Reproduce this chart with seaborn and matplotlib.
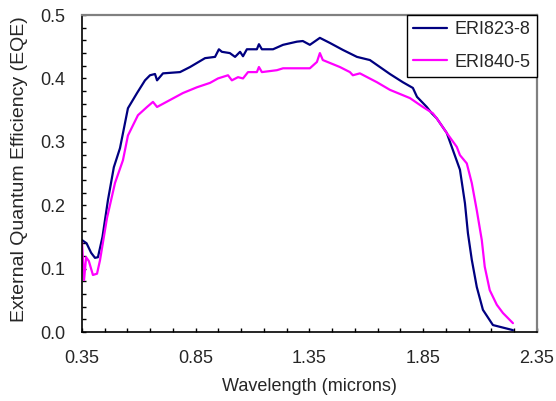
import numpy as np
import pandas as pd
import seaborn as sns
import matplotlib
matplotlib.use('Agg')
import matplotlib.pyplot as plt
from matplotlib.ticker import FixedLocator, FormatStrFormatter

# values
wl_823 = [0.35, 0.37, 0.39, 0.407, 0.42, 0.44, 0.464, 0.49, 0.517, 0.552, 0.592, 0.627,
          0.649, 0.671, 0.68, 0.706, 0.781, 0.825, 0.891, 0.935, 0.952, 0.965, 1.0,
          1.023, 1.045, 1.058, 1.075, 1.119, 1.128, 1.141, 1.19, 1.234, 1.295, 1.321,
          1.352, 1.396, 1.44, 1.497, 1.559, 1.616, 1.66, 1.704, 1.761, 1.805, 1.823,
          1.866, 1.888, 1.91, 1.954, 1.981, 2.012, 2.034, 2.047, 2.064, 2.086, 2.113,
          2.157, 2.245]
eqe_823 = [0.145, 0.14, 0.125, 0.117, 0.118, 0.15, 0.208, 0.26, 0.29, 0.353, 0.377, 0.397,
           0.405, 0.407, 0.397, 0.408, 0.41, 0.418, 0.432, 0.434, 0.446, 0.442, 0.44,
           0.434, 0.442, 0.435, 0.446, 0.446, 0.454, 0.446, 0.446, 0.453, 0.458, 0.459,
           0.453, 0.464, 0.456, 0.445, 0.434, 0.429, 0.418, 0.407, 0.394, 0.385, 0.371,
           0.355, 0.345, 0.337, 0.314, 0.287, 0.256, 0.203, 0.156, 0.114, 0.071, 0.035,
           0.011, 0.003]

wl_840 = [0.35, 0.359, 0.368, 0.38, 0.398, 0.416, 0.429, 0.46, 0.495, 0.53, 0.552, 0.596,
          0.636, 0.662, 0.68, 0.737, 0.794, 0.855, 0.913, 0.948, 0.992, 1.009, 1.036,
          1.058, 1.08, 1.119, 1.128, 1.141, 1.207, 1.234, 1.295, 1.352, 1.383, 1.396,
          1.409, 1.484, 1.528, 1.541, 1.572, 1.647, 1.704, 1.792, 1.849, 1.893, 1.91,
          1.954, 1.998, 2.012, 2.042, 2.064, 2.086, 2.108, 2.121, 2.143, 2.174, 2.201,
          2.245]
eqe_840 = [0.142, 0.082, 0.118, 0.112, 0.09, 0.092, 0.113, 0.18, 0.235, 0.271, 0.31, 0.342,
           0.355, 0.363, 0.355, 0.366, 0.377, 0.386, 0.393, 0.4, 0.405, 0.397, 0.402,
           0.4, 0.41, 0.41, 0.418, 0.41, 0.413, 0.416, 0.416, 0.416, 0.426, 0.44,
           0.429, 0.418, 0.41, 0.405, 0.408, 0.394, 0.382, 0.369, 0.355, 0.345, 0.337,
           0.314, 0.292, 0.279, 0.266, 0.235, 0.192, 0.145, 0.103, 0.066, 0.043, 0.03,
           0.014]

samples = ['ERI823-8', 'ERI840-5']
colors = ['#000080', '#FF00FF']

df = pd.concat([
    pd.DataFrame({'wl': wl_823, 'eqe': eqe_823, 'sample': samples[0]}),
    pd.DataFrame({'wl': wl_840, 'eqe': eqe_840, 'sample': samples[1]}),
])

sns.set_style('white')
plt.rcParams['font.family'] = ['Liberation Sans', 'DejaVu Sans']

fig = plt.figure(figsize=(5.56, 4.01), dpi=100)
ax = fig.add_axes([0.1475, 0.172, 0.818, 0.7905])

sns.lineplot(data=df, x='wl', y='eqe', hue='sample', palette=colors,
             sort=False, linewidth=1.6, ax=ax, legend=False)

ax.set_xlim(0.35, 2.35)
ax.set_ylim(0, 0.5)
ax.xaxis.set_major_locator(FixedLocator(np.arange(0.35, 2.36, 0.5)))
ax.xaxis.set_minor_locator(FixedLocator(np.arange(0.35, 2.36, 0.1)))
ax.yaxis.set_major_locator(FixedLocator(np.arange(0, 0.51, 0.1)))
ax.yaxis.set_minor_locator(FixedLocator(np.arange(0, 0.51, 0.02)))
ax.xaxis.set_major_formatter(FormatStrFormatter('%.2f'))
ax.yaxis.set_major_formatter(FormatStrFormatter('%.1f'))
ax.tick_params(which='both', direction='in', length=3, width=1, color='black',
               labelsize=13, bottom=True, left=True)
ax.tick_params(axis='x', which='both', pad=13)
ax.tick_params(axis='y', which='both', pad=12)

for s in ['left', 'bottom']:
    ax.spines[s].set_color('black')
    ax.spines[s].set_linewidth(1.2)
for s in ['top', 'right']:
    ax.spines[s].set_color('#808080')
    ax.spines[s].set_linewidth(1.6)

ax.set_xlabel('Wavelength (microns)', fontsize=13)
ax.set_ylabel('External Quantum Efficiency (EQE)', fontsize=14)
ax.xaxis.set_label_coords(0.5, -0.145)
ax.yaxis.set_label_coords(-0.118, 0.515)

handles = [plt.Line2D([], [], color=c, linewidth=1.6) for c in colors]
leg = ax.legend(handles, samples, loc='upper right', fontsize=13, frameon=True,
                fancybox=False, borderaxespad=0, handlelength=1.9,
                handletextpad=0.4, borderpad=0.35, labelspacing=0.85)
leg.get_frame().set_edgecolor('black')
leg.get_frame().set_linewidth(1.0)
leg.get_frame().set_alpha(1)

fig.savefig('out.png', dpi=100)
